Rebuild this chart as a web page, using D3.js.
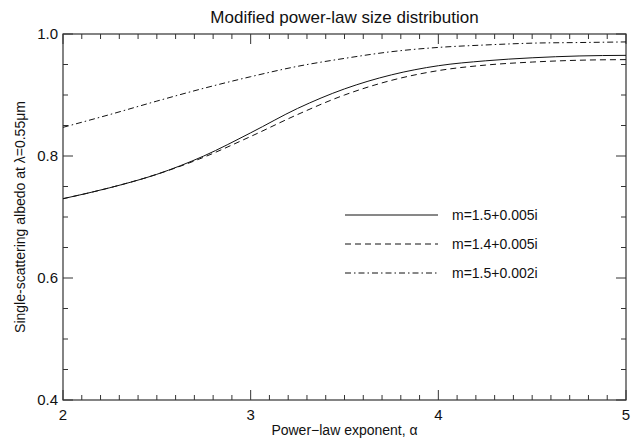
<!DOCTYPE html>
<html><head><meta charset="utf-8">
<script src="https://cdn.jsdelivr.net/npm/d3@7"></script>
<style>body{margin:0;background:#fff}svg{display:block}text{font-family:"Liberation Sans",Arial,sans-serif;fill:#111}</style>
</head><body><svg id="c" width="636" height="439"></svg>
<script>
const alphaVals = [2.0,2.25,2.5,2.75,3.0,3.25,3.5,3.75,4.0,4.25,4.5,4.75,5.0];
const solidVals = [0.730,0.748,0.770,0.800,0.838,0.878,0.910,0.933,0.948,0.956,0.961,0.964,0.965];
const dashedVals = [0.730,0.748,0.770,0.798,0.832,0.868,0.900,0.924,0.940,0.949,0.954,0.957,0.958];
const dashDotVals = [0.847,0.868,0.890,0.911,0.930,0.947,0.960,0.971,0.978,0.982,0.985,0.986,0.987];
const seriesNames = ["m=1.5+0.005i","m=1.4+0.005i","m=1.5+0.002i"];
const xTicks = [2,3,4,5];
const yTicks = [0.4,0.6,0.8,1.0];
const titleText = "Modified power-law size distribution";
const xLabel = "Power\u2212law exponent, \u03b1";
const yLabel = "Single-scattering albedo at \u03bb=0.55\u03bcm";

const svg = d3.select("#c");
const L=63, R=626, T=34, B=400;
const x = d3.scaleLinear().domain([2,5]).range([L,R]);
const y = d3.scaleLinear().domain([0.4,1.0]).range([B,T]);
const axCol = "#333";

// frame
svg.append("rect").attr("x",L).attr("y",T).attr("width",R-L).attr("height",B-T)
  .attr("fill","none").attr("stroke",axCol).attr("stroke-width",1.2);

// x ticks (minor every 0.1)
const xMinor = d3.range(20,51).map(d=>d/10);
xMinor.forEach(v=>{
  const major = Math.abs(v-Math.round(v))<1e-6;
  const len = major?10:5;
  svg.append("line").attr("x1",x(v)).attr("x2",x(v)).attr("y1",B).attr("y2",B-len).attr("stroke",axCol);
  svg.append("line").attr("x1",x(v)).attr("x2",x(v)).attr("y1",T).attr("y2",T+len).attr("stroke",axCol);
});
const yMinor = d3.range(8,21).map(d=>d*0.05);
yMinor.forEach(v=>{
  const major = Math.abs(v*5-Math.round(v*5))<1e-6;
  const len = major?10:5;
  svg.append("line").attr("y1",y(v)).attr("y2",y(v)).attr("x1",L).attr("x2",L+len).attr("stroke",axCol);
  svg.append("line").attr("y1",y(v)).attr("y2",y(v)).attr("x1",R).attr("x2",R-len).attr("stroke",axCol);
});
xTicks.forEach(v=>{
  svg.append("text").attr("x",x(v)).attr("y",B+20).attr("text-anchor","middle").attr("font-size",15).text(d3.format("d")(v));
});
yTicks.forEach(v=>{
  svg.append("text").attr("x",L-5).attr("y",y(v)+5).attr("text-anchor","end").attr("font-size",15).text(d3.format(".1f")(v));
});

svg.append("text").attr("x",(L+R)/2).attr("y",23).attr("text-anchor","middle").attr("font-size",17).text(titleText);
svg.append("text").attr("x",(L+R)/2).attr("y",435).attr("text-anchor","middle").attr("font-size",14).text(xLabel);
svg.append("text").attr("transform",`translate(25,${(T+B)/2}) rotate(-90)`).attr("text-anchor","middle").attr("font-size",14).text(yLabel);

const dashes = [null,"6,4","6,3,1.5,3"];
const series = [solidVals,dashedVals,dashDotVals];
const line = d3.line().x((d,i)=>x(alphaVals[i])).y(d=>y(d)).curve(d3.curveMonotoneX);
series.forEach((s,k)=>{
  svg.append("path").attr("d",line(s)).attr("fill","none").attr("stroke","#111").attr("stroke-width",1)
    .attr("stroke-dasharray",dashes[k]);
});
// legend
const legY = [215,244,273];
seriesNames.forEach((n,k)=>{
  svg.append("line").attr("x1",345).attr("x2",438).attr("y1",legY[k]).attr("y2",legY[k])
    .attr("stroke","#111").attr("stroke-width",1).attr("stroke-dasharray",dashes[k]);
  svg.append("text").attr("x",452).attr("y",legY[k]+5).attr("font-size",14).text(n);
});
</script></body></html>
